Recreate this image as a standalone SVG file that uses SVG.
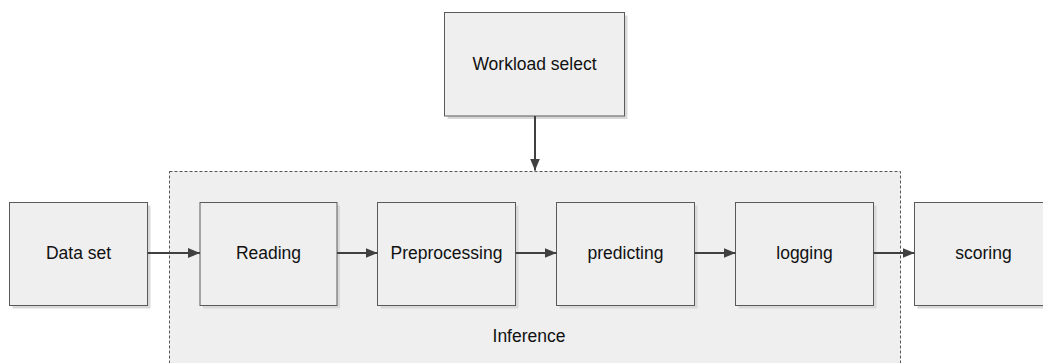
<svg xmlns="http://www.w3.org/2000/svg" width="1043" height="363" viewBox="0 0 1043 363">
<defs>
<style>
.box{fill:#efefef;stroke:#5a5a5a;stroke-width:1}
.sh{fill:#d9d9d9;stroke:none}
.t{font-family:"Liberation Sans",Arial,sans-serif;font-size:17.5px;fill:#111;text-anchor:middle}
.c{stroke:#404040;stroke-width:2;fill:none}
</style>
<marker id="ah" markerWidth="12" markerHeight="10" refX="12" refY="5" orient="auto" markerUnits="userSpaceOnUse">
<path d="M0,0 L12,5 L0,10 Z" fill="#404040"/>
</marker>
</defs>
<rect width="1043" height="363" fill="#fff"/>
<g id="inference">
<rect x="169.5" y="171.5" width="731" height="200" fill="#efefef" stroke="#555" stroke-width="1" stroke-dasharray="3,2"/>
<text class="t" x="529" y="341.5">Inference</text>
</g>
<g id="workload">
<rect class="sh" x="447.5" y="15.5" width="180" height="103.5"/>
<rect class="box" x="444.5" y="12.5" width="180" height="103.5"/>
<text class="t" x="534.5" y="70">Workload select</text>
</g>
<g id="dataset">
<rect class="sh" x="12.5" y="205.5" width="138" height="103"/>
<rect class="box" x="9.5" y="202.5" width="138" height="103"/>
<text class="t" x="78.5" y="259">Data set</text>
</g>
<g id="reading">
<rect class="sh" x="203" y="205.5" width="137" height="103"/>
<rect class="box" x="200" y="202.5" width="137" height="103"/>
<text class="t" x="268.5" y="259">Reading</text>
</g>
<g id="preprocessing">
<rect class="sh" x="380.5" y="205.5" width="138" height="103"/>
<rect class="box" x="377.5" y="202.5" width="138" height="103"/>
<text class="t" x="446.5" y="259">Preprocessing</text>
</g>
<g id="predicting">
<rect class="sh" x="559.5" y="205.5" width="138" height="103"/>
<rect class="box" x="556.5" y="202.5" width="138" height="103"/>
<text class="t" x="625.5" y="259">predicting</text>
</g>
<g id="logging">
<rect class="sh" x="738.5" y="205.5" width="138" height="103"/>
<rect class="box" x="735.5" y="202.5" width="138" height="103"/>
<text class="t" x="804.5" y="259">logging</text>
</g>
<g id="scoring">
<rect class="sh" x="917.5" y="205.5" width="138" height="103"/>
<rect class="box" x="914.5" y="202.5" width="138" height="103"/>
<text class="t" x="983.5" y="259">scoring</text>
</g>
<g id="connectors">
<line class="c" x1="535" y1="116" x2="535" y2="170.5" marker-end="url(#ah)"/>
<line class="c" x1="147.5" y1="253" x2="200" y2="253" marker-end="url(#ah)"/>
<line class="c" x1="337" y1="253" x2="377.5" y2="253" marker-end="url(#ah)"/>
<line class="c" x1="515.5" y1="253" x2="556.5" y2="253" marker-end="url(#ah)"/>
<line class="c" x1="694.5" y1="253" x2="735.5" y2="253" marker-end="url(#ah)"/>
<line class="c" x1="873.5" y1="253" x2="914.5" y2="253" marker-end="url(#ah)"/>
</g>
</svg>
